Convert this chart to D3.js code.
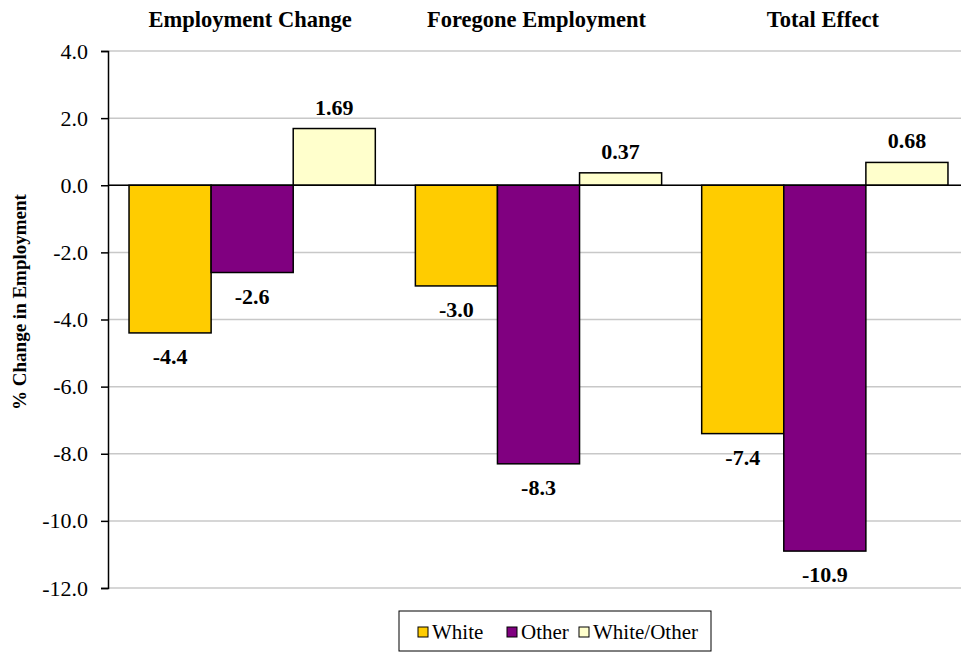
<html>
<head>
  <script src="https://d3js.org/d3.v7.min.js"></script>
  <style>
    body {
      margin: 0;
      padding: 0;
      background: white;
    }
    svg { display: block; }
    svg text {
      font-family: "Liberation Serif", "Times New Roman", Tinos, "Nimbus Roman", Times, serif;
    }
  </style>
</head>
<body>
  <div id="chart"></div>
  <script>
const groups = ["Employment Change", "Foregone Employment", "Total Effect"];
const seriesNames = ["White", "Other", "White/Other"];
const seriesColors = ["#ffcc00", "#800080", "#ffffcc"];
const seriesDigits = [1, 1, 2];
const white = [-4.4, -3.0, -7.4];
const other = [-2.6, -8.3, -10.9];
const whiteOther = [1.69, 0.37, 0.68];
const yTicks = [4, 2, 0, -2, -4, -6, -8, -10, -12];

const seriesValues = [white, other, whiteOther];

const width = 961;
const height = 652;

const svg = d3.select("#chart")
  .append("svg")
  .attr("width", width)
  .attr("height", height);

const x0 = d3.scaleBand().domain(groups).range([109, 968]).paddingInner(0).paddingOuter(0);
const x1 = d3.scaleBand().domain(seriesNames).range([0, x0.bandwidth()]).paddingInner(0).paddingOuter(0.244);
const y = d3.scaleLinear().domain([-12, 4]).range([588, 51]);

// gridlines
svg.append("g")
  .selectAll("line")
  .data(yTicks)
  .enter()
  .append("line")
  .attr("x1", 108)
  .attr("x2", width)
  .attr("y1", d => y(d))
  .attr("y2", d => y(d))
  .attr("stroke", "#c8c8c8")
  .attr("stroke-width", 1.5);

// y axis
const yAxis = svg.append("g")
  .attr("transform", "translate(108,0)")
  .call(d3.axisLeft(y).tickValues(yTicks).tickFormat(d => d.toFixed(1)).tickSize(7).tickPadding(13));
yAxis.select(".domain").attr("stroke", "#000").attr("stroke-width", 1.5);
yAxis.selectAll(".tick line").attr("stroke", "#000").attr("stroke-width", 1.5);
yAxis.selectAll("text")
  .attr("font-size", 22)
  .attr("fill", "#000");

// bars
const barData = [];
groups.forEach((g, gi) => {
  seriesNames.forEach((s, si) => {
    barData.push({ group: g, series: s, si: si, value: seriesValues[si][gi] });
  });
});

svg.append("g")
  .selectAll("rect")
  .data(barData)
  .enter()
  .append("rect")
  .attr("x", d => x0(d.group) + x1(d.series))
  .attr("width", x1.bandwidth())
  .attr("y", d => y(Math.max(0, d.value)))
  .attr("height", d => Math.abs(y(d.value) - y(0)))
  .attr("fill", d => seriesColors[d.si])
  .attr("stroke", "#000")
  .attr("stroke-width", 1.5);

// zero line
svg.append("line")
  .attr("x1", 108)
  .attr("x2", width)
  .attr("y1", y(0))
  .attr("y2", y(0))
  .attr("stroke", "#000")
  .attr("stroke-width", 1.5);

// value labels
svg.append("g")
  .selectAll("text")
  .data(barData)
  .enter()
  .append("text")
  .attr("x", d => x0(d.group) + x1(d.series) + x1.bandwidth() / 2)
  .attr("y", d => d.value >= 0 ? y(d.value) - 14 : y(d.value) + 31)
  .attr("text-anchor", "middle")
  .attr("font-size", 22)
  .attr("font-weight", "bold")
  .text(d => d.value.toFixed(seriesDigits[d.si]));

// group titles
svg.append("g")
  .selectAll("text")
  .data(groups)
  .enter()
  .append("text")
  .attr("x", d => x0(d) + x0.bandwidth() / 2 - 2)
  .attr("y", 27)
  .attr("text-anchor", "middle")
  .attr("font-size", 22.5)
  .attr("font-weight", "bold")
  .text(d => d);

// axis title
svg.append("text")
  .attr("transform", "translate(26,302) rotate(-90)")
  .attr("text-anchor", "middle")
  .attr("font-size", 19)
  .attr("font-weight", "bold")
  .text("% Change in Employment");

// legend
const legend = svg.append("g");
legend.append("rect")
  .attr("x", 399)
  .attr("y", 611)
  .attr("width", 312)
  .attr("height", 40)
  .attr("fill", "white")
  .attr("stroke", "#000")
  .attr("stroke-width", 1);

const legendX = [418, 507, 579];
seriesNames.forEach((s, i) => {
  legend.append("rect")
    .attr("x", legendX[i])
    .attr("y", 627)
    .attr("width", 10)
    .attr("height", 10)
    .attr("fill", seriesColors[i])
    .attr("stroke", "#000")
    .attr("stroke-width", 1);
  legend.append("text")
    .attr("x", legendX[i] + 14)
    .attr("y", 639)
    .attr("font-size", 21)
    .text(s);
});
  </script>
</body>
</html>
